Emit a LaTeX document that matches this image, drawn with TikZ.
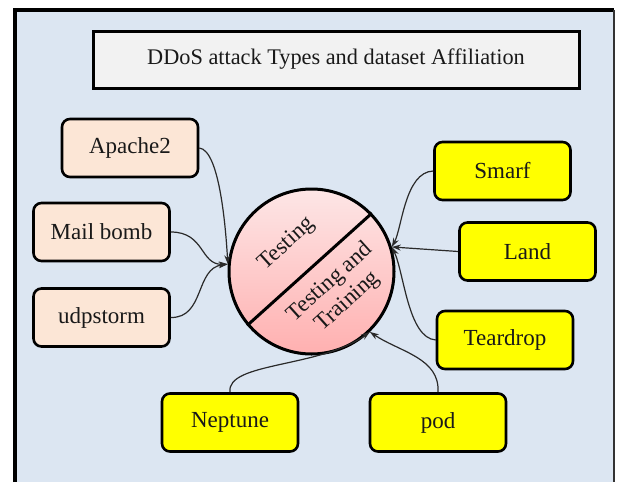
\documentclass[tikz,border=0pt]{standalone}
\usepackage{fontspec}
\setmainfont{Liberation Serif}
\usetikzlibrary{arrows.meta}
\definecolor{panel}{HTML}{DCE6F2}
\definecolor{titlefill}{HTML}{F2F2F2}
\definecolor{peach}{HTML}{FCE6D6}
\definecolor{attackyellow}{HTML}{FFFF00}
\definecolor{pinktop}{HTML}{FDE6E6}
\definecolor{pinkbottom}{HTML}{FFB0B0}
\definecolor{linkgray}{HTML}{2A2A2A}
\tikzset{
  lbl/.style={font=\fontsize{23}{25}\selectfont, text=black!90},
  attackbox/.style={lbl, draw=black, line width=2.6pt, rounded corners=8pt,
    minimum width=136pt, minimum height=58pt, inner sep=0pt},
  testbox/.style={attackbox, fill=peach},
  bothbox/.style={attackbox, fill=attackyellow},
  link/.style={draw=linkgray, line width=1.2pt,
    -{Stealth[length=9pt,width=6pt]}}
}
\begin{document}
\begin{tikzpicture}[x=1pt,y=-1pt]
\useasboundingbox (0,0) rectangle (618,482);
% panel
\fill[white] (0,0) rectangle (618,482);
\fill[panel] (15,10) rectangle (614,482);
\draw[line width=4pt] (15,482) -- (15,10) -- (614,10);
\draw[line width=2pt, black!80] (614,10) -- (614,482);

% title
\node[lbl, font=\fontsize{22.3}{24}\selectfont, draw=black, line width=3pt,
  fill=titlefill, minimum width=486pt, minimum height=57pt] (title) at (336,59.5)
  {DDoS attack Types and dataset Affiliation};

% central circle
\node[circle, draw=black, line width=3pt, top color=pinktop, bottom color=pinkbottom,
  minimum size=165pt, inner sep=0pt] (circ) at (311.5,271.5) {};
\draw[line width=3pt] (circ.220) -- (circ.44);
\node[lbl, rotate=42, inner sep=0pt] (testing) at (287,244) {Testing};
\node[lbl, rotate=42, align=center, inner sep=0pt, font=\fontsize{23}{26}\selectfont]
  (both) at (339,292) {Testing and\\Training};

% attacks only in testing
\node[testbox] (apache) at (130,148) {Apache2};
\node[testbox] (mail) at (101.5,232) {Mail bomb};
\node[testbox] (udp) at (101.5,317.5) {udpstorm};

% attacks in testing and training
\node[bothbox] (smarf) at (502.5,171) {Smarf};
\node[bothbox] (land) at (527.5,251.5) {Land};
\node[bothbox] (tear) at (505,340) {Teardrop};
\node[bothbox] (nept) at (230,422.5) {Neptune};
\node[bothbox] (pod) at (438,422.5) {pod};

% connectors
\draw[link] (apache.east) .. controls (220,150) and (226,232) .. (circ.175);
\draw[link] (mail.east) .. controls (205,232) and (200,265) .. (circ.175);
\draw[link] (udp.east) .. controls (205,318) and (195,268) .. (circ.175);
\draw[link] (smarf.west) .. controls (405,172) and (402,228) .. (circ.17);
\draw[link] (land.west) -- (circ.17);
\draw[link] (tear.west) .. controls (408,338) and (404,272) .. (circ.17);
\draw[link] (nept.north) .. controls (226,362) and (320,368) .. (circ.-46);
\draw[link] (pod.north) .. controls (440,358) and (400,352) .. (circ.-46);
\end{tikzpicture}
\end{document}
